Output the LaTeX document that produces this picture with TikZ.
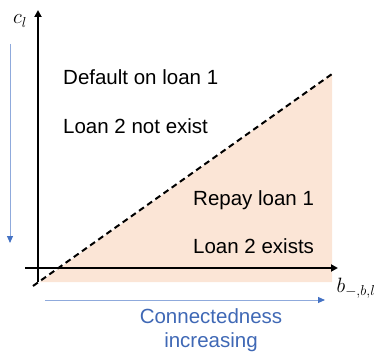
\documentclass[tikz,border=0pt]{standalone}
\usepackage{amsmath}
\usepackage{fontspec}
\setmainfont{Liberation Sans}
\usepackage{tikz}
\usepackage{xcolor}
\usetikzlibrary{arrows.meta,positioning}

\definecolor{peach}{HTML}{FBE5D6}
\definecolor{lineblue}{HTML}{8FAADC}
\definecolor{headblue}{HTML}{4472C4}
\definecolor{textblue}{HTML}{3F68B5}

\begin{document}
\begin{tikzpicture}[x=1pt, y=-1pt,
    every node/.style={inner sep=0pt, font=\fontsize{20.5}{24}\selectfont},
    axis/.style={line width=2.2pt, -{Triangle[length=7pt,width=7pt]}},
    trend/.style={lineblue, line width=1pt, -{Triangle[length=7pt,width=6pt,headblue]}}]
                \useasboundingbox (0,0) rectangle (378,353);

                % Axis ends
                \coordinate (o) at (38,268);
                \coordinate (ybot) at (38,282);
                \coordinate (ytop) at (38,10);
                \coordinate (xleft) at (25,268);
                \coordinate (xright) at (338,268);

                % Boundary ends
                \coordinate (d0) at (33,286);
                \coordinate (d1) at (332,74);

                % Repay region
                \fill[peach] (40,282) -- (d1) -- (332,282) -- cycle;

                % Axes
                \draw[axis] (ybot) -- (ytop);
                \draw[axis] (xleft) -- (xright);

                % Boundary
                \draw[line width=2pt, dash pattern=on 6pt off 4pt] (d0) -- (d1);

                % Axis labels
                \node (cl) at (20,21) {$c_l$};
                \node (bl) at (356,288) {$b_{-,b,l}$};

                % Region texts
                \node[anchor=west] (dflt) at (63,77) {Default on loan 1};
                \node[anchor=west] (nox) at (63,126) {Loan 2 not exist};
                \node[anchor=west] (rpy) at (193,200) {Repay loan 1};
                \node[anchor=west] (ex) at (193,246) {Loan 2 exists};

                % Trend arrows
                \coordinate (vtop) at (10,44);
                \coordinate (vbot) at (10,243);
                \coordinate (hleft) at (45,300);
                \coordinate (hright) at (325,300);
                \draw[trend] (vtop) -- (vbot);
                \draw[trend] (hleft) -- (hright);
                \node[textblue, align=center] (conn) at (211,330) {Connectedness\\increasing};
            \end{tikzpicture}
\end{document}
